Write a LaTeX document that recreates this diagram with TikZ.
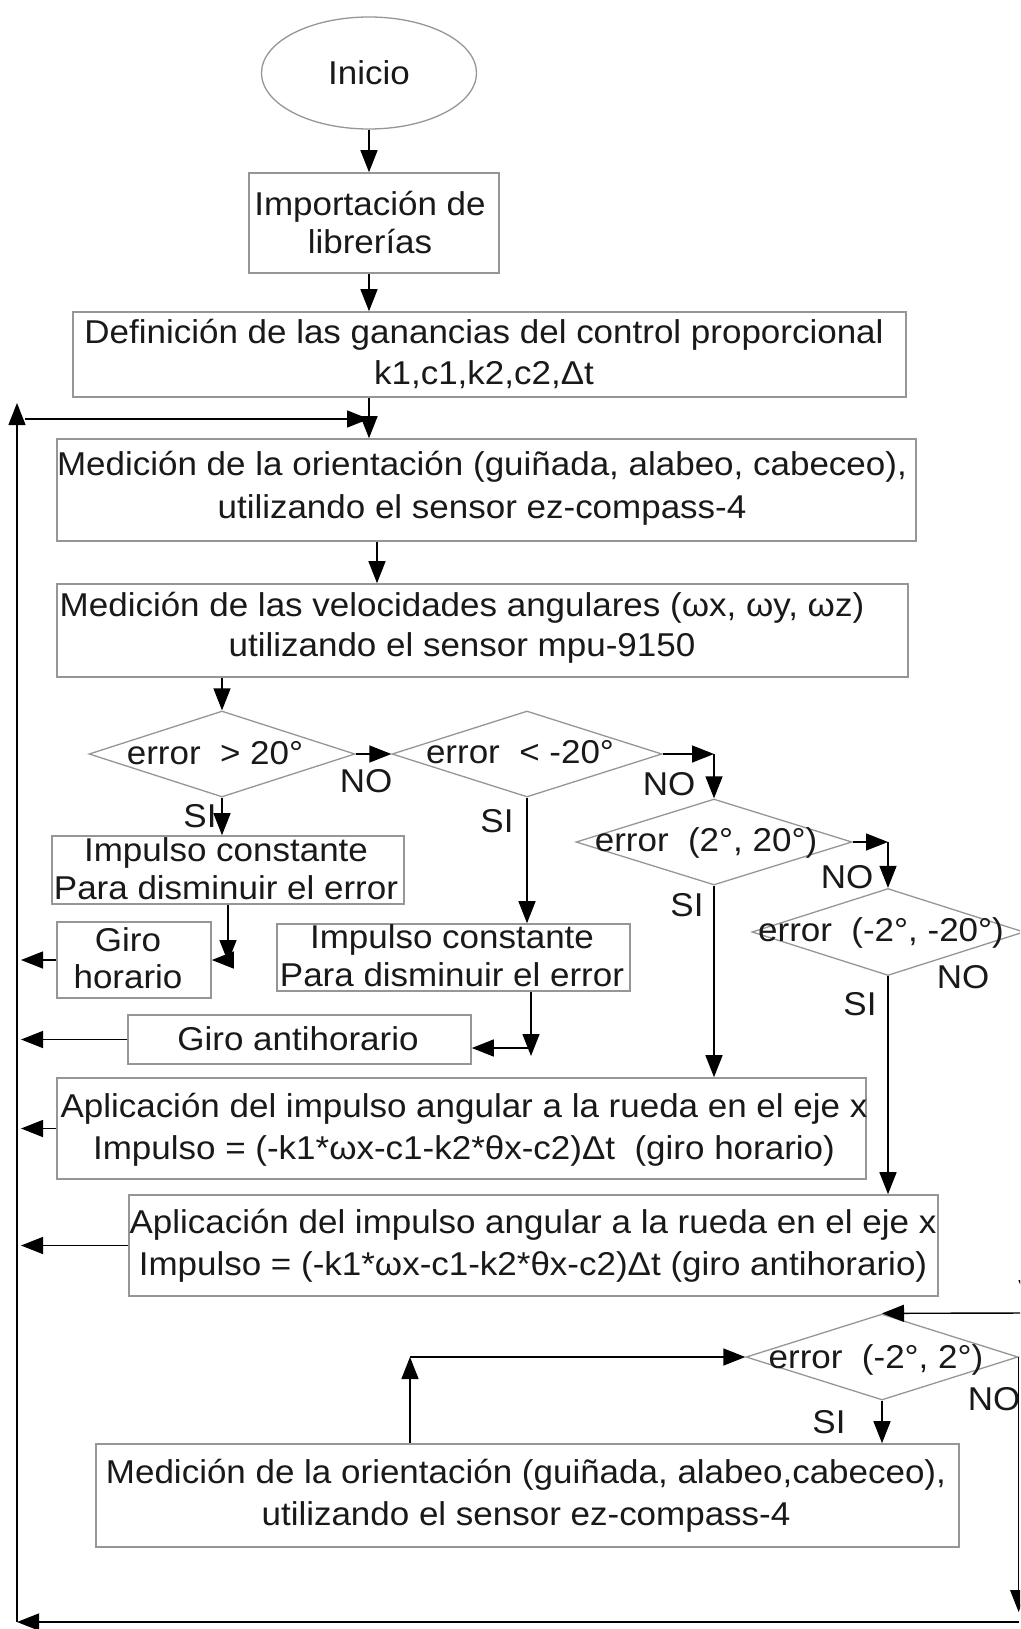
\documentclass[tikz,border=0pt]{standalone}
\usepackage{fontspec}
\setmainfont{Liberation Sans}[FakeStretch=1.06]
\usetikzlibrary{shapes.geometric,arrows.meta}
\definecolor{bord}{RGB}{150,150,150}
\definecolor{ink}{RGB}{25,25,25}
\begin{document}
\begin{tikzpicture}[x=1pt,y=-1pt,
  box/.style={draw=bord, line width=1.6pt, rectangle, inner sep=0pt},
  dia/.style={draw=bord, line width=1.3pt, diamond, inner sep=0pt},
  txt/.style={font=\fontsize{33}{#1}\selectfont, text=ink, align=center, inner sep=0pt},
  txt/.default=41,
  lbl/.style={font=\fontsize{33}{40}\selectfont, text=ink, inner sep=0pt},
  arr/.style={draw=black, line width=1.4pt, -{Triangle[length=22pt,width=17pt]}},
  ln/.style={draw=black, line width=1.4pt}
]
\fill[white] (0,0) rectangle (1020,1629);
\useasboundingbox (0,0) rectangle (1020,1629);
\clip (0,0) rectangle (1020,1629);

% ---- shapes
\node[draw=bord, line width=1.3pt, ellipse, minimum width=215pt, minimum height=112pt, inner sep=0pt] (ini) at (369,73) {};
\node[txt] (init) at (369,73) {Inicio};

\node[box, minimum width=250pt, minimum height=100pt] (imp) at (374,223) {};
\node[txt=38] (impt) at (370,223) {Importación de\\librerías};

\node[box, minimum width=833pt, minimum height=85pt] (def) at (489.5,354.5) {};
\node[txt] (deft) at (484,354) {Definición de las ganancias del control proporcional\\k1,c1,k2,c2,Δt};

\node[box, minimum width=859pt, minimum height=102pt] (med1) at (486.5,490) {};
\node[txt=43] (med1t) at (482,488) {Medición de la orientación (guiñada, alabeo, cabeceo),\\utilizando el sensor ez-compass-4};

\node[box, minimum width=851pt, minimum height=93pt] (med2) at (482.5,630.5) {};
\node[txt=40] (med2t) at (462,628) {Medición de las velocidades angulares (ωx, ωy, ωz)\\utilizando el sensor mpu-9150};

\node[dia, minimum width=266pt, minimum height=86pt] (d1) at (222,754) {};
\node[txt] (d1t) at (215,753) {error~~> 20°};
\node[dia, minimum width=270pt, minimum height=86pt] (d2) at (527,754) {};
\node[txt] (d2t) at (520,752) {error~~< -20°};
\node[dia, minimum width=276pt, minimum height=86pt] (d3) at (714,842) {};
\node[txt] (d3t) at (706,843) {error~~(2°, 20°)};
\node[dia, minimum width=272pt, minimum height=87pt] (d4) at (888,932) {};
\node[txt] (d4t) at (881,933) {error~~(-2°, -20°)};
\node[dia, minimum width=272pt, minimum height=86pt] (d5) at (882,1357) {};
\node[txt] (d5t) at (876,1360) {error~~(-2°, 2°)};

\node[box, minimum width=352pt, minimum height=68pt] (imp1) at (228,870) {};
\node[txt=38] (imp1t) at (226,869) {Impulso constante\\Para disminuir el error};
\node[box, minimum width=154pt, minimum height=76pt] (giroH) at (134,960) {};
\node[txt=37] (giroHt) at (128,958) {Giro\\horario};
\node[box, minimum width=353pt, minimum height=67pt] (imp2) at (453.5,957.5) {};
\node[txt=38] (imp2t) at (452,956) {Impulso constante\\Para disminuir el error};
\node[box, minimum width=343pt, minimum height=49pt] (giroA) at (299.5,1039.5) {};
\node[txt] (giroAt) at (298,1039) {Giro antihorario};

\node[box, minimum width=809pt, minimum height=101pt] (A1) at (461.5,1128.5) {};
\node[txt=42] (A1t) at (464,1130) {Aplicación del impulso angular a la rueda en el eje x\\Impulso = (-k1*ωx-c1-k2*θx-c2)Δt~~(giro horario)};
\node[box, minimum width=809pt, minimum height=101pt] (A2) at (533.5,1245.5) {};
\node[txt=42] (A2t) at (533,1246) {Aplicación del impulso angular a la rueda en el eje x\\Impulso = (-k1*ωx-c1-k2*θx-c2)Δt (giro antihorario)};

\node[box, minimum width=863pt, minimum height=103pt] (M2) at (527.5,1495.5) {};
\node[txt=42] (M2t) at (526,1496) {Medición de la orientación (guiñada, alabeo,cabeceo),\\utilizando el sensor ez-compass-4};

% ---- labels
\node[lbl] (no1) at (366,781) {NO};
\node[lbl] (si1) at (200,816) {SI};
\node[lbl] (no2) at (669,784) {NO};
\node[lbl] (si2) at (497,821) {SI};
\node[lbl] (no3) at (847,877) {NO};
\node[lbl] (si3) at (687,905) {SI};
\node[lbl] (no4) at (963,977) {NO};
\node[lbl] (si4) at (860,1004) {SI};
\node[lbl] (no5) at (994,1399) {NO};
\node[lbl] (si5) at (829,1422) {SI};

% ---- helper coordinates
\coordinate (lx) at (21,0);
\coordinate (c4) at (377,0);
\coordinate (c6) at (228,0);
\coordinate (g1) at (228,962);
\coordinate (c7) at (531,0);
\coordinate (v7) at (531,1056);
\coordinate (h7) at (531,1048);
\coordinate (loopL) at (25,419);
\coordinate (loopR) at (369,419);
\coordinate (lt) at (17,403);
\coordinate (lb) at (17,1622);
\coordinate (rb) at (1019,1622);
\coordinate (r5b) at (1019,1612);
\coordinate (r4a) at (1027,932);
\coordinate (r4b) at (1027,1302);
\coordinate (r4c) at (1027,1313);
\coordinate (m2u) at (410,1357);

% ---- connectors
\draw[arr] (ini.south) -- (ini.south |- imp.north);
\draw[arr] (ini.south |- imp.south) -- (ini.south |- def.north);
\draw[arr] (ini.south |- def.south) -- (ini.south |- med1.north);
\draw[arr] (loopL) -- (loopR);
\draw[arr] (lb) -- (lt);
\draw[arr] (c4 |- med1.south) -- (c4 |- med2.north);
\draw[arr] (d1.north |- med2.south) -- (d1.north);

\draw[arr] (d1.east) -- (d2.west);
\draw[arr] (d1.south) -- (d1.south |- imp1.north);
\draw[arr] (c6 |- imp1.south) -- (g1);
\draw[arr] (c6 |- giroH.east) -- (giroH.east);
\draw[arr] (giroH.west) -- (lx |- giroH.west);

\draw[arr] (d2.south) -- (d2.south |- imp2.north);
\draw[arr] (c7 |- imp2.south) -- (v7);
\draw[arr] (h7) -- (h7 -| giroA.east);
\draw[arr] (giroA.west) -- (lx |- giroA.west);

\draw[arr] (d2.east) -- (d3.north |- d2.east);
\draw[arr] (d3.north |- d2.east) -- (d3.north);
\draw[arr] (d3.east) -- (d4.north |- d3.east);
\draw[arr] (d4.north |- d3.east) -- (d4.north);
\draw[arr] (d3.south) -- (d3.south |- A1.north);
\draw[arr] (d4.south) -- (d4.south |- A2.north);
\draw[arr] (A1.west) -- (lx |- A1.west);
\draw[arr] (A2.west) -- (lx |- A2.west);

\draw[ln] (d4.east) -- (r4a);
\draw[arr] (r4a) -- (r4b);
\draw[arr] (r4c) -- (d5.north);

\draw[arr] (d5.east) -- (d5.east |- r5b);
\draw[arr] (rb) -- (lb);

\draw[arr] (m2u |- M2.north) -- (m2u);
\draw[arr] (m2u) -- (d5.west);
\draw[arr] (d5.south) -- (d5.south |- M2.north);
\end{tikzpicture}
\end{document}
